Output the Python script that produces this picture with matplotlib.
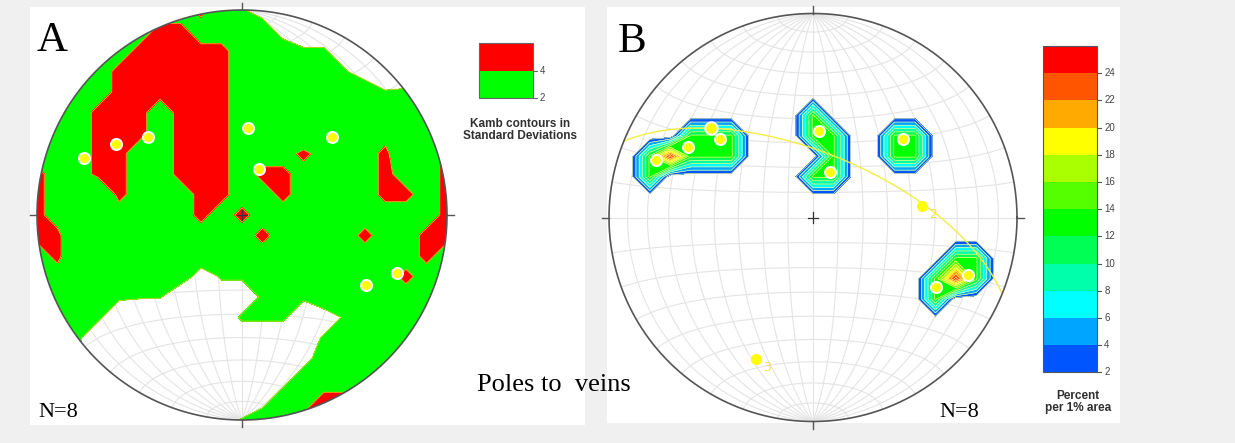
import numpy as np
import matplotlib
matplotlib.use('Agg')
import matplotlib.pyplot as plt
from matplotlib.patches import Rectangle, Circle

# poles to veins, lower hemisphere (trend, plunge in degrees)
pole_trend = [290.0, 299.5, 310.0, 3.8, 20.5, 49.0, 119.6, 110.4]
pole_plunge = [19.3, 30.2, 40.2, 55.2, 70.6, 41.3, 31.2, 20.3]

# eigenvectors 1-3 of the orientation tensor
eig_trend = [311.0, 84.1, 202.0]
eig_plunge = [33.9, 45.4, 26.0]
eig_labels = ['', '2', '3']

kamb_levels = [2, 4]
kamb_colors = ['#00ff00', '#ff0000']

pct_levels = [2, 4, 6, 8, 10, 12, 14, 16, 18, 20, 22, 24]
pct_colors = ['#0055ff', '#00a5ff', '#00ffff', '#00ffaa', '#00ff55', '#00ff00',
              '#55ff00', '#aaff00', '#ffff00', '#ffaa00', '#ff5500', '#ff0000']

W, H = 1235, 443
GRID = '#e4e4e4'
RIM = '#555555'


def vec(tr, pl):
    tr = np.radians(np.asarray(tr, float))
    pl = np.radians(np.asarray(pl, float))
    return np.stack([np.cos(pl) * np.sin(tr), np.cos(pl) * np.cos(tr), np.sin(pl)], axis=-1)


def proj(v):
    # Schmidt (equal area) projection, lower hemisphere
    v = np.atleast_2d(v)
    v = np.where(v[:, 2:3] < 0, -v, v)
    s = np.sqrt(1 + v[:, 2])
    return v[:, 0] / s, v[:, 1] / s


def unproj(x, y):
    r2 = np.clip(x ** 2 + y ** 2, 0, 2)
    d = 1 - r2
    s = np.sqrt(1 + d)
    v = np.stack([x * s, y * s, d], axis=-1)
    return v / np.linalg.norm(v, axis=-1, keepdims=True)


def count_grid(P, cos_lim, step=0.1, lim=1.2):
    # axial counting on a square grid laid over the net
    n = int(round(2 * lim / step)) + 1
    g = np.linspace(-lim, lim, n)
    X, Y = np.meshgrid(g, g)
    c = (np.abs(unproj(X, Y) @ P.T) >= cos_lim).sum(-1)
    return X, Y, c


def net_axes(cx, cy, R, lim=1.08):
    half = lim * R
    ax = fig.add_axes([(cx - half) / W, (H - cy - half) / H, 2 * half / W, 2 * half / H])
    ax.set_xlim(-lim, lim)
    ax.set_ylim(-lim, lim)
    ax.axis('off')
    return ax


def draw_grid(ax):
    phi = np.linspace(0, np.pi, 181)
    for dip in range(10, 90, 10):
        d = np.radians(dip)
        for sgn in (1, -1):
            v = np.stack([sgn * np.sin(phi) * np.cos(d), np.cos(phi), np.sin(phi) * np.sin(d)], axis=-1)
            x, y = proj(v)
            ax.plot(x, y, color=GRID, lw=0.8, zorder=1)
    for beta in range(10, 180, 10):
        b = np.radians(beta)
        v = np.stack([np.sin(b) * np.cos(phi), np.full_like(phi, np.cos(b)), np.sin(b) * np.sin(phi)], axis=-1)
        x, y = proj(v)
        ax.plot(x, y, color=GRID, lw=0.8, zorder=1)
    ax.plot([0, 0], [-1, 1], color=GRID, lw=0.8, zorder=1)


def draw_frame(ax):
    t = np.linspace(0, 2 * np.pi, 400)
    ax.plot(np.cos(t), np.sin(t), color=RIM, lw=1.2, zorder=10)
    for a, b in [((0, 0), (1, 1.035)), ((0, 0), (-1, -1.035)), ((1, 1.035), (0, 0)), ((-1, -1.035), (0, 0))]:
        ax.plot(a, b, color=RIM, lw=1.0, zorder=10)
    c = 0.025
    ax.plot([-c, c], [0, 0], color='#333333', lw=0.9, zorder=11)
    ax.plot([0, 0], [-c, c], color='#333333', lw=0.9, zorder=11)


def clip(obj, ax):
    obj.set_clip_path(Circle((0, 0), 1, transform=ax.transData))


fig = plt.figure(figsize=(W / 100, H / 100), dpi=100)
fig.patch.set_facecolor('#f0f0f0')
bg = fig.add_axes([0, 0, 1, 1])
bg.set_xlim(0, W)
bg.set_ylim(H, 0)
bg.axis('off')
bg.add_patch(Rectangle((30, 7), 555, 418, fc='white', ec='none'))
bg.add_patch(Rectangle((607, 7), 513, 416, fc='white', ec='none'))

P = vec(pole_trend, pole_plunge)
N = len(pole_trend)
px, py = proj(P)

# ---- A: Kamb contours in standard deviations ----
axA = net_axes(242, 215, 205)
draw_grid(axA)
frac = 9.0 / (N + 9)
X, Y, cnt = count_grid(P, 1 - frac)
ZA = cnt / np.sqrt(N * frac * (1 - frac))
cf = axA.contourf(X, Y, ZA, levels=kamb_levels + [100], colors=kamb_colors, zorder=2)
clip(cf, axA)
cl = axA.contour(X, Y, ZA, levels=kamb_levels, colors='#d8d020', linewidths=0.6, zorder=3)
clip(cl, axA)
axA.plot(px, py, 'o', ms=8, mfc='#ffff00', mec='white', mew=1.4, zorder=6)
draw_frame(axA)

# ---- B: percent per 1% area ----
axB = net_axes(813, 217.5, 204)
draw_grid(axB)
X2, Y2, cnt2 = count_grid(P, np.cos(np.radians(8.75)))
ZB = cnt2 * 100.0 / N
cf = axB.contourf(X2, Y2, ZB, levels=pct_levels + [100], colors=pct_colors, zorder=2)
clip(cf, axB)
cl = axB.contour(X2, Y2, ZB, levels=pct_levels, colors='#ffff90', linewidths=0.5, zorder=3)
clip(cl, axB)

# best-fit great circle, pole = eigenvector 3
pole = vec(eig_trend[2], eig_plunge[2])
a = np.cross(pole, [0, 0, 1.0])
a /= np.linalg.norm(a)
b = np.cross(pole, a)
if b[2] < 0:
    b = -b
phi = np.linspace(0, np.pi, 200)
gx, gy = proj(np.outer(np.cos(phi), a) + np.outer(np.sin(phi), b))
axB.plot(gx, gy, color='#f5ee40', lw=1.0, zorder=4)

axB.plot(px, py, 'o', ms=8, mfc='#ffff00', mec='white', mew=1.4, zorder=6)
ex, ey = proj(vec(eig_trend, eig_plunge))
axB.plot(ex[:1], ey[:1], 'o', ms=9, mfc='#ffff00', mec='white', mew=1.4, zorder=5)
axB.plot(ex[1:], ey[1:], 'o', ms=8, mfc='#ffff00', mec='none', zorder=5)
for x, y, s in zip(ex, ey, eig_labels):
    axB.text(x + 0.035, y - 0.04, s, color='#f0e050', fontsize=9, ha='left', va='center', zorder=7)
draw_frame(axB)

# ---- text and legends ----
serif = 'Liberation Serif'
bg.text(37, 51, 'A', family=serif, fontsize=31, va='baseline')
bg.text(618, 52, 'B', family=serif, fontsize=31, va='baseline')
bg.text(38, 417, 'N=8', family=serif, fontsize=16, va='baseline')
bg.text(939, 417, 'N=8', family=serif, fontsize=16, va='baseline')
bg.text(477, 391, 'Poles to  veins', family=serif, fontsize=19, va='baseline')

# Kamb legend
lx, ltop, lw_, lh = 479, 43.3, 54, 55
for i, c in enumerate(kamb_colors):
    bg.add_patch(Rectangle((lx, ltop + lh - (i + 1) * lh / 2), lw_, lh / 2, fc=c, ec='none'))
bg.add_patch(Rectangle((lx, ltop), lw_, lh, fc='none', ec='#666666', lw=0.8))
for i, lev in enumerate(kamb_levels):
    yy = ltop + lh - i * lh / 2
    bg.plot([lx + lw_, lx + lw_ + 4], [yy, yy], color='#666666', lw=0.8)
    bg.text(lx + lw_ + 7, yy, str(lev), fontsize=7, color='#444444', va='center', family='Liberation Sans')
bg.text(520, 130, 'Kamb contours in\nStandard Deviations', ha='center', va='center',
        fontsize=8.5, fontweight='bold', color='#303030', family='Liberation Sans', linespacing=1.05)

# percent colour bar
cx0, ctop, cw, ch = 1043.3, 46, 54, 326.3
nb = len(pct_colors)
for i, c in enumerate(pct_colors):
    bg.add_patch(Rectangle((cx0, ctop + ch - (i + 1) * ch / nb), cw, ch / nb, fc=c, ec='none'))
bg.add_patch(Rectangle((cx0, ctop), cw, ch, fc='none', ec='#555555', lw=0.8))
for i, lev in enumerate(pct_levels):
    yy = ctop + ch - i * ch / nb
    bg.plot([cx0 + cw, cx0 + cw + 4], [yy, yy], color='#555555', lw=0.8)
    bg.text(cx0 + cw + 7, yy, str(lev), fontsize=7, color='#444444', va='center', family='Liberation Sans')
bg.text(1078, 402, 'Percent\nper 1% area', ha='center', va='center',
        fontsize=8.5, fontweight='bold', color='#303030', family='Liberation Sans', linespacing=1.05)

fig.savefig('out.png', dpi=100, facecolor=fig.get_facecolor())
